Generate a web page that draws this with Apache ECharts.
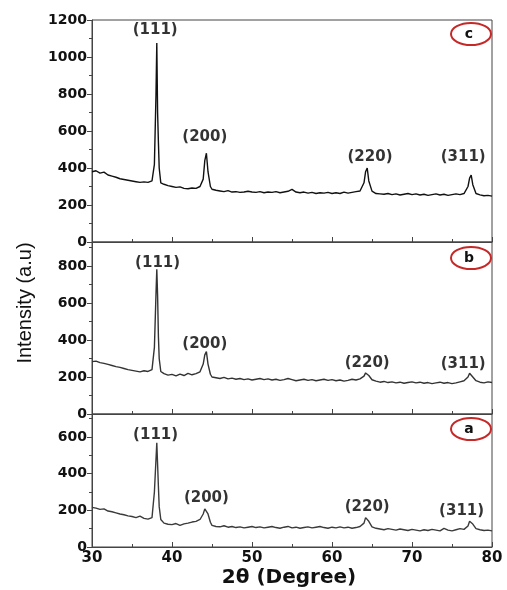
<!doctype html>
<html>
<head>
<meta charset="utf-8">
<script src="https://cdn.jsdelivr.net/npm/echarts@6/dist/echarts.min.js"></script>
<style>
    html, body {margin: 0; padding: 0; background: #fff;}
    #main {width: 507px; height: 590px;}
</style>
</head>
<body>
<div id="main"></div>
<script>
    // 2theta positions shared by the three patterns
    var twoTheta = [30,30.5,31,31.5,32,32.5,33,33.5,34,34.5,35,35.5,36,36.5,37,37.5,
        37.8,38,38.1,38.2,38.3,38.4,38.6,
        39,39.5,40,40.5,41,41.5,42,42.5,43,43.5,
        43.9,44.1,44.3,44.5,44.8,
        45,45.5,46,46.5,47,47.5,48,48.5,49,49.5,50,50.5,51,51.5,52,52.5,53,53.5,54,54.5,
        55,55.5,56,56.5,57,57.5,58,58.5,59,59.5,60,60.5,61,61.5,62,62.5,63,63.5,64,
        64.2,64.4,64.6,
        65,65.5,66,66.5,67,67.5,68,68.5,69,69.5,70,70.5,71,71.5,72,72.5,73,73.5,74,74.5,75,75.5,76,76.5,77,
        77.2,77.4,77.6,
        78,78.5,79,79.5,80];

    var intensityC = [380,385,372,378,362,356,350,342,338,334,330,326,322,325,322,330,
        420,800,1075,700,540,400,320,
        312,305,300,295,298,290,288,292,290,300,
        340,440,480,380,300,
        285,280,276,272,278,270,272,268,270,274,270,268,272,266,270,268,272,266,270,274,
        284,270,266,270,264,268,262,266,264,268,262,266,262,270,264,268,272,276,320,
        380,400,330,
        275,262,260,258,262,256,260,254,258,262,256,260,254,258,252,256,260,254,258,252,256,260,256,262,300,
        345,362,310,
        262,255,250,252,248];

    var intensityB = [283,286,278,274,268,262,256,252,246,240,236,232,228,234,230,240,
        360,650,782,640,420,300,230,
        218,210,214,206,216,208,220,212,218,228,
        270,320,337,270,215,
        200,196,192,198,190,194,188,192,186,190,184,188,192,186,190,184,188,182,186,192,
        186,180,184,188,182,186,180,184,188,182,186,180,184,178,182,188,184,190,205,
        222,229,208,
        185,178,172,176,170,174,168,172,166,170,174,168,172,166,170,164,168,172,166,170,164,168,174,180,200,
        220,227,200,
        180,172,168,174,170];

    var intensityA = [216,212,205,208,196,192,186,180,176,170,166,160,168,156,152,160,
        300,480,568,450,330,220,150,
        130,124,122,128,118,126,130,136,140,150,
        180,208,216,180,135,
        118,112,110,116,108,112,106,110,104,108,112,106,110,104,108,112,106,102,108,112,
        104,108,102,106,110,104,108,112,106,102,108,104,110,104,108,102,106,112,130,
        160,169,140,
        110,102,98,94,100,96,92,98,94,90,96,92,88,94,90,96,92,88,102,92,88,94,100,96,115,
        140,147,125,
        100,94,90,92,88];

    var peakNames = ['(111)', '(200)', '(220)', '(311)'];
    var labelXC = [37.9, 44.1, 64.75, 76.4], labelYC = [1146, 567, 459, 459];
    var labelXB = [38.2, 44.1, 64.4, 76.4], labelYB = [816, 378, 276, 270];
    var labelXA = [37.95, 44.3, 64.4, 76.2], labelYA = [610, 267, 220, 196];

    var panels = [
        {top: 20, height: 222, max: 1200, data: intensityC, lx: labelXC, ly: labelYC, color: '#111', tag: 'c', cy: 34},
        {top: 242, height: 172, max: 930, data: intensityB, lx: labelXB, ly: labelYB, color: '#333', tag: 'b', cy: 258},
        {top: 414, height: 133, max: 725, data: intensityA, lx: labelXA, ly: labelYA, color: '#3a3a3a', tag: 'a', cy: 429}
    ];

    var font = 'DejaVu Sans';
    var grid = [], xAxis = [], yAxis = [], series = [], graphic = [];

    panels.forEach(function (p, i) {
        var last = i === panels.length - 1;
        grid.push({left: 92, width: 400, top: p.top, height: p.height,
            show: true, borderColor: '#444', borderWidth: 1});
        xAxis.push({
            type: 'value', gridIndex: i, min: 30, max: 80, interval: 10,
            axisLine: {lineStyle: {color: '#444', width: 1}},
            axisTick: {inside: true, length: 5, lineStyle: {color: '#444'}},
            minorTick: {show: true, splitNumber: 2, length: 3, lineStyle: {color: '#444'}},
            splitLine: {show: false},
            axisLabel: {show: last, color: '#111', fontFamily: font, fontWeight: 'bold', fontSize: 15, margin: 4,
                formatter: function (v) { return String(v); }}
        });
        yAxis.push({
            type: 'value', gridIndex: i, min: 0, max: p.max, interval: 200,
            axisLine: {show: true, lineStyle: {color: '#444', width: 1}},
            axisTick: {show: true, length: 5, lineStyle: {color: '#444'}},
            minorTick: {show: true, splitNumber: 2, length: 3, lineStyle: {color: '#444'}},
            splitLine: {show: false},
            axisLabel: {color: '#111', fontFamily: font, fontWeight: 'bold', fontSize: 14, margin: 5,
                showMaxLabel: p.max % 200 === 0,
                formatter: function (v) { return String(v); }}
        });
        series.push({
            type: 'line', xAxisIndex: i, yAxisIndex: i,
            data: twoTheta.map(function (x, k) { return [x, p.data[k]]; }),
            showSymbol: false, symbol: 'none',
            lineStyle: {color: p.color, width: 1.4},
            animation: false, silent: true
        });
        series.push({
            type: 'scatter', xAxisIndex: i, yAxisIndex: i,
            data: peakNames.map(function (n, k) { return {value: [p.lx[k], p.ly[k]], name: n}; }),
            symbolSize: 2, itemStyle: {color: 'rgba(0,0,0,0)'},
            label: {show: true, position: 'inside', formatter: '{b}', color: '#000',
                textBorderWidth: 0, fontFamily: font, fontWeight: 'bold', fontSize: 15},
            animation: false, silent: true
        });
        graphic.push({
            type: 'ellipse', shape: {cx: 471, cy: p.cy, rx: 20, ry: 11},
            style: {fill: 'none', stroke: '#c62828', lineWidth: 2}
        });
        graphic.push({
            type: 'text', x: 469, y: p.cy,
            style: {text: p.tag, font: 'bold 14px ' + font, fill: '#111', align: 'center', verticalAlign: 'middle'}
        });
    });

    graphic.push({
        type: 'text', x: 289, y: 578,
        style: {text: '2θ (Degree)', font: 'bold 20px ' + font, fill: '#111', align: 'center', verticalAlign: 'middle'}
    });
    graphic.push({
        type: 'text', x: 25, y: 303, rotation: Math.PI / 2,
        style: {text: 'Intensity (a.u)', font: '20px Liberation Sans', fill: '#111', align: 'center', verticalAlign: 'middle'}
    });

    var myChart = echarts.init(document.getElementById('main'));
    myChart.setOption({
        animation: false,
        grid: grid,
        xAxis: xAxis,
        yAxis: yAxis,
        series: series,
        graphic: graphic
    });
</script>
</body>
</html>
